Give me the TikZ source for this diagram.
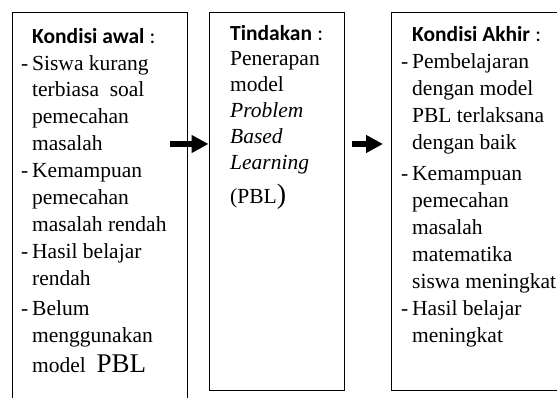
\documentclass[tikz,border=0pt]{standalone}
\usepackage{fontspec}
\setmainfont{Liberation Serif}
\newfontfamily\judul{Carlito}
\usetikzlibrary{arrows.meta}

\newcommand{\butir}{\llap{-\hspace{4pt}}}

\tikzset{
  kotak/.style={draw, line width=1.2pt, anchor=north west, inner sep=0pt},
  isi/.style={anchor=base west, align=left, inner sep=0pt,
    font=\fontsize{21.5}{26.9}\selectfont},
  panah/.style={line width=5.5pt, -{Triangle[length=17pt,width=17pt]}}
}

\begin{document}
\begin{tikzpicture}[x=1pt,y=1pt]
\useasboundingbox (0,0) rectangle (557,398);
\clip (0,0) rectangle (557,398);

\node[kotak, minimum width=175, minimum height=420] (awal) at (12,386) {};
\node[kotak, minimum width=135, minimum height=378] (tindakan) at (209,386) {};
\node[kotak, minimum width=250, minimum height=378] (akhir) at (391,386) {};

\node[isi] (teksawal) at (32,25) {%
{\judul\bfseries Kondisi awal} {\judul :}\\
\butir Siswa kurang\\
terbiasa\ \ soal\\
pemecahan\\
masalah\\
\butir Kemampuan\\
pemecahan\\
masalah rendah\\
\butir Hasil belajar\\
rendah\\[3pt]
\butir Belum\\
menggunakan\\[4pt]
model\ \ {\fontsize{27}{27}\selectfont PBL}};

\node[isi, font=\fontsize{21.5}{25.8}\selectfont] (tekstindakan) at (230,194) {%
{\judul\bfseries Tindakan} {\judul :}\\
Penerapan\\
model\\
\textit{Problem}\\
\textit{Based}\\
\textit{Learning}\\[9pt]
(PBL{\fontsize{28}{28}\selectfont)}};

\node[isi, font=\fontsize{21.5}{27}\selectfont] (teksakhir) at (412,55) {%
{\judul\bfseries Kondisi Akhir} {\judul :}\\
\butir Pembelajaran\\
dengan model\\
PBL terlaksana\\
dengan baik\\[4pt]
\butir Kemampuan\\
pemecahan\\
masalah\\
matematika\\
siswa meningkat\\
\butir Hasil belajar\\
meningkat};

\coordinate (p1a) at (170,254);
\coordinate (p1b) at (208.5,254);
\coordinate (p2a) at (352,254);
\coordinate (p2b) at (383,254);
\draw[panah] (p1a) -- (p1b);
\draw[panah] (p2a) -- (p2b);
\end{tikzpicture}
\end{document}
